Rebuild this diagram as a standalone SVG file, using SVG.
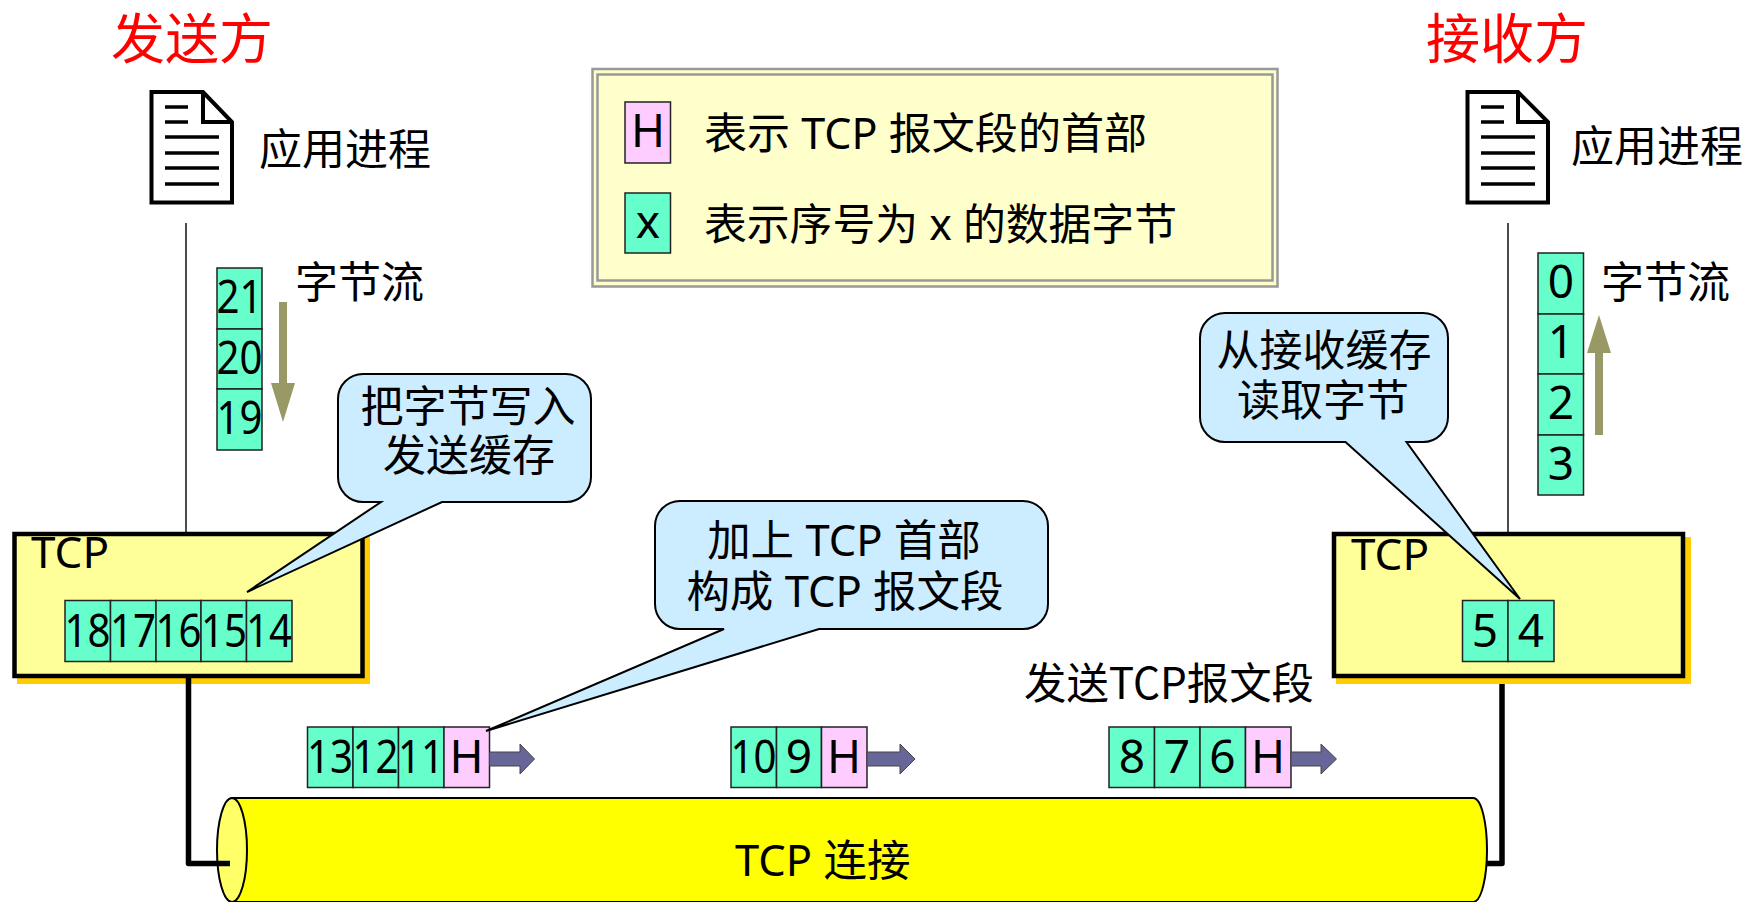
<svg xmlns="http://www.w3.org/2000/svg" width="1744" height="902" viewBox="0 0 1744 902">
<style>
text{font-family:"Noto Sans CJK SC","Noto Sans",sans-serif;font-size:43px;fill:#000}
.m{text-anchor:middle}
.mx{font-family:"Noto Sans","Noto Sans CJK SC",sans-serif;font-size:43.500px}
.d{font-family:"Noto Sans","Noto Sans CJK SC",sans-serif;font-size:46px;text-anchor:middle}
.lat{font-family:"Noto Sans","Noto Sans CJK SC",sans-serif;font-size:44px}
.title{font-size:54px;fill:#f00;text-anchor:middle}
.g{fill:#66FFCC;stroke:#222;stroke-width:1.500}
.h{fill:#FFCCFF;stroke:#222;stroke-width:1.500}
.tcp{fill:#FFFF99;stroke:#000;stroke-width:4.500}
.sh{fill:#FFCC00}
.doc{fill:#fff;stroke:#000;stroke-width:4}
.ln{stroke:#000;stroke-width:3.500;fill:none}
.call{fill:#CCECFF;stroke:#000;stroke-width:2}
.thin{stroke:#111;stroke-width:1.500;fill:none}
.thick{stroke:#000;stroke-width:5.500;fill:none;stroke-linejoin:round}
.fl{fill:#999966}
.pa{fill:#666699;stroke:#444;stroke-width:1}
.fr{fill:none;stroke:#999;stroke-width:2.500}
</style>
<defs>
<g id="lines"><path class="ln" d="M0 107H23M0 122H23M0 137H54M0 153H54M0 168H54M0 184H54"/></g>
</defs>

<g id="connectors">
<path class="thin" d="M186 223V533"/>
<path class="thin" d="M1508 223V533"/>
<path class="thick" d="M1502 682V863.500H1486"/>
</g>

<g id="sender-title"><text class="title" x="192" y="59">发送方</text></g>
<g id="receiver-title"><text class="title" x="1507" y="59">接收方</text></g>

<g id="sender-app">
<path class="doc" d="M151.500 92H203L232 122V202.500H151.500Z"/>
<path class="doc" d="M203 92V122H232" style="fill:none"/>
<use href="#lines" x="165"/>
<text x="259" y="165">应用进程</text>
</g>
<g id="receiver-app">
<path class="doc" d="M1467.500 92H1518L1548 122V202.500H1467.500Z"/>
<path class="doc" d="M1518 92V122H1548" style="fill:none"/>
<use href="#lines" x="1481"/>
<text x="1571" y="162">应用进程</text>
</g>

<g id="legend">
<rect x="592.500" y="69" width="685" height="217.500" fill="#FFFFCC" stroke="#999" stroke-width="2.500"/>
<rect x="597.500" y="74.500" width="675" height="206" class="fr"/>
<rect class="h" x="625" y="102" width="45.500" height="61"/><text class="d" x="648" y="147">H</text>
<rect class="g" x="625" y="193" width="45.500" height="60"/><text class="d" x="648" y="238">x</text>
<text class="mx" x="704" y="149" textLength="443" lengthAdjust="spacingAndGlyphs">表示 TCP 报文段的首部</text>
<text class="mx" x="704" y="240" textLength="473" lengthAdjust="spacingAndGlyphs">表示序号为 x 的数据字节</text>
</g>

<g id="sender-stream">
<rect class="g" x="217" y="268" width="45" height="61"/><text class="d" x="239.500" y="313" textLength="46" lengthAdjust="spacingAndGlyphs">21</text>
<rect class="g" x="217" y="329" width="45" height="60"/><text class="d" x="239.500" y="374" textLength="46" lengthAdjust="spacingAndGlyphs">20</text>
<rect class="g" x="217" y="389" width="45" height="61"/><text class="d" x="239.500" y="434" textLength="46" lengthAdjust="spacingAndGlyphs">19</text>
<path class="fl" d="M279 302H287V383H295L283 422L271 383H279Z"/>
<text x="295" y="298">字节流</text>
</g>
<g id="receiver-stream">
<rect class="g" x="1538" y="253" width="45.500" height="61"/><text class="d" x="1561" y="298">0</text>
<rect class="g" x="1538" y="314" width="45.500" height="60"/><text class="d" x="1561" y="358">1</text>
<rect class="g" x="1538" y="374" width="45.500" height="61"/><text class="d" x="1561" y="419">2</text>
<rect class="g" x="1538" y="435" width="45.500" height="60"/><text class="d" x="1561" y="480">3</text>
<path class="fl" d="M1595 435V353H1587L1599 315L1611 353H1603V435Z"/>
<text x="1601" y="298">字节流</text>
</g>

<g id="sender-tcp">
<rect class="sh" x="17" y="537" width="353" height="147"/>
<rect class="tcp" x="14.500" y="534" width="348" height="142"/>
<text class="lat" x="31" y="568">TCP</text>
<rect class="g" x="65" y="600.500" width="45.500" height="61"/><text class="d" x="87.500" y="647" textLength="46" lengthAdjust="spacingAndGlyphs">18</text>
<rect class="g" x="110.500" y="600.500" width="45.500" height="61"/><text class="d" x="133" y="647" textLength="46" lengthAdjust="spacingAndGlyphs">17</text>
<rect class="g" x="156" y="600.500" width="45" height="61"/><text class="d" x="178.500" y="647" textLength="46" lengthAdjust="spacingAndGlyphs">16</text>
<rect class="g" x="201" y="600.500" width="45.500" height="61"/><text class="d" x="224" y="647" textLength="46" lengthAdjust="spacingAndGlyphs">15</text>
<rect class="g" x="246.500" y="600.500" width="45.500" height="61"/><text class="d" x="269" y="647" textLength="46" lengthAdjust="spacingAndGlyphs">14</text>
</g>
<g id="receiver-tcp">
<rect class="sh" x="1336" y="537" width="355" height="147"/>
<rect class="tcp" x="1334" y="534" width="349" height="142"/>
<text class="lat" x="1351" y="570">TCP</text>
<rect class="g" x="1462.500" y="600.500" width="45.500" height="61"/><text class="d" x="1485" y="647">5</text>
<rect class="g" x="1508" y="600.500" width="46" height="61"/><text class="d" x="1531" y="647">4</text>
</g>

<g id="tcp-connection">
<path d="M232 798H1473C1482 798 1487 825 1487 850C1487 875 1482 902 1473 902H232Z" fill="#FFFF00" stroke="#000" stroke-width="2"/>
<ellipse cx="232" cy="850" rx="15" ry="52" fill="#FFFF66" stroke="#000" stroke-width="2"/>
<text class="mx" x="735" y="876">TCP 连接</text>
</g>
<g id="sender-wire"><path class="thick" d="M188.500 676V863.500H230"/></g>

<g id="segment-1">
<rect class="g" x="307.500" y="727" width="45.500" height="60.500"/><text class="d" x="330" y="773" textLength="46" lengthAdjust="spacingAndGlyphs">13</text>
<rect class="g" x="353" y="727" width="45.500" height="60.500"/><text class="d" x="375.500" y="773" textLength="46" lengthAdjust="spacingAndGlyphs">12</text>
<rect class="g" x="398.500" y="727" width="45.500" height="60.500"/><text class="d" x="421" y="773" textLength="46" lengthAdjust="spacingAndGlyphs">11</text>
<rect class="h" x="444" y="727" width="45.500" height="60.500"/><text class="d" x="466.500" y="773">H</text>
<path class="pa" d="M489.500 752H520V744L534.500 759L520 774V766H489.500Z"/>
</g>
<g id="segment-2">
<rect class="g" x="731" y="727" width="45.500" height="60.500"/><text class="d" x="753.500" y="773" textLength="46" lengthAdjust="spacingAndGlyphs">10</text>
<rect class="g" x="776.500" y="727" width="45" height="60.500"/><text class="d" x="799" y="773">9</text>
<rect class="h" x="821.500" y="727" width="45.500" height="60.500"/><text class="d" x="844" y="773">H</text>
<path class="pa" d="M867 752H900V744L915 759L900 774V766H867Z"/>
</g>
<g id="segment-3">
<rect class="g" x="1109" y="727" width="45.500" height="60.500"/><text class="d" x="1132" y="773">8</text>
<rect class="g" x="1154.500" y="727" width="45.500" height="60.500"/><text class="d" x="1177" y="773">7</text>
<rect class="g" x="1200" y="727" width="45.500" height="60.500"/><text class="d" x="1222.500" y="773">6</text>
<rect class="h" x="1245.500" y="727" width="45.500" height="60.500"/><text class="d" x="1268" y="773">H</text>
<path class="pa" d="M1291 752H1321V744L1336.500 759L1321 774V766H1291Z"/>
<text x="1024" y="699" textLength="290" lengthAdjust="spacingAndGlyphs">发送TCP报文段</text>
</g>

<g id="callout-write">
<path class="call" d="M363 374H566A25 25 0 0 1 591 399V477A25 25 0 0 1 566 502H442L247 592L381 502H363A25 25 0 0 1 338 477V399A25 25 0 0 1 363 374Z"/>
<text class="m" x="468" y="422">把字节写入</text>
<text class="m" x="469" y="471">发送缓存</text>
</g>
<g id="callout-read">
<path class="call" d="M1225 313H1423A25 25 0 0 1 1448 338V417A25 25 0 0 1 1423 442H1406.500L1520 599L1345.500 442H1225A25 25 0 0 1 1200 417V338A25 25 0 0 1 1225 313Z"/>
<text class="m" x="1324" y="366">从接收缓存</text>
<text class="m" x="1323" y="416">读取字节</text>
</g>
<g id="callout-header">
<path class="call" d="M680 501H1023A25 25 0 0 1 1048 526V604A25 25 0 0 1 1023 629H819L486 731L724 629H680A25 25 0 0 1 655 604V526A25 25 0 0 1 680 501Z"/>
<text class="m mx" x="844" y="556">加上 TCP 首部</text>
<text class="m mx" x="845" y="607">构成 TCP 报文段</text>
</g>
</svg>
